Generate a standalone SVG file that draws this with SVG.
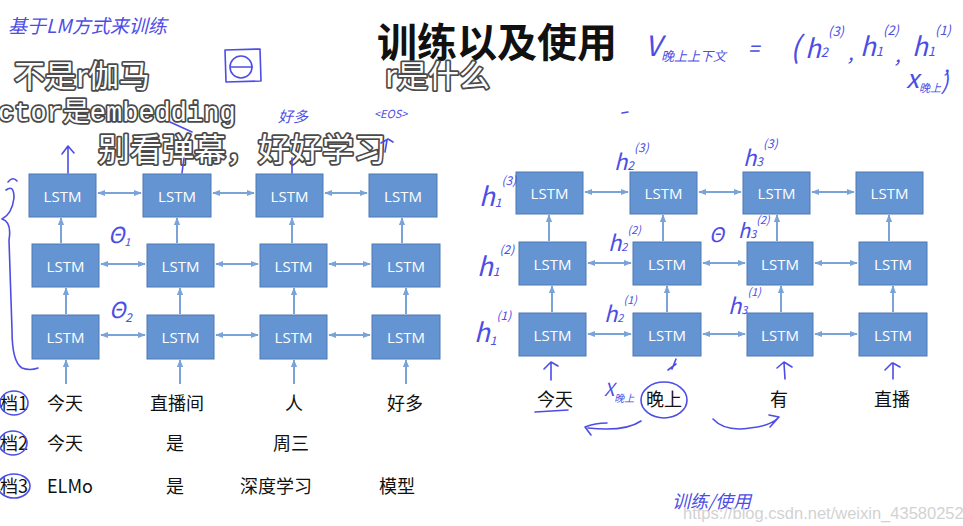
<svg xmlns="http://www.w3.org/2000/svg" width="963" height="526" viewBox="0 0 963 526">
<style>
.box{fill:#6495d2;stroke:#4d79b3;stroke-width:1}
.lbl{font-family:"Open Sans","Liberation Sans",sans-serif;font-size:15px;fill:#fff;text-anchor:middle;dominant-baseline:central}
.conn line{stroke:#7aa3d8;stroke-width:2}
.hw{fill:none;stroke:#4d4de6;stroke-width:1.6;stroke-linecap:round;stroke-linejoin:round}
.hwt{font-family:"Noto Sans CJK SC","DejaVu Sans",sans-serif;fill:#4d4de6;font-style:italic}
.word{font-family:"Noto Sans CJK SC","Liberation Sans",sans-serif;font-size:18px;fill:#111}
.dm{font-family:"Noto Sans CJK SC",sans-serif;fill:#fff;stroke:#4a4a4a;stroke-width:3.5;paint-order:stroke;stroke-linejoin:round}
.dmm{font-family:"Liberation Mono","Noto Sans CJK SC",monospace;fill:#fff;stroke:#4a4a4a;stroke-width:3.5;paint-order:stroke;stroke-linejoin:round}
</style>
<defs>
<marker id="ah" viewBox="0 0 10 10" refX="9" refY="5" markerWidth="8" markerHeight="8" markerUnits="userSpaceOnUse" orient="auto-start-reverse"><path d="M0,1 L10,5 L0,9 z" fill="#7aa3d8"/></marker>
</defs>
<rect width="963" height="526" fill="#fff"/>

<text x="497" y="57" text-anchor="middle" font-family="Noto Sans CJK SC,sans-serif" font-size="40" font-weight="bold" fill="#111">训练以及使用</text>

<!-- connectors -->
<g id="connectors" class="conn">
<g marker-start="url(#ah)" marker-end="url(#ah)">
<line x1="98" y1="193" x2="141" y2="193"/><line x1="213" y1="193" x2="254" y2="193"/><line x1="325" y1="193" x2="367" y2="193"/>
<line x1="101" y1="264" x2="145" y2="264"/><line x1="216" y1="264" x2="258" y2="264"/><line x1="329" y1="264" x2="370" y2="264"/>
<line x1="101" y1="335" x2="145" y2="335"/><line x1="216" y1="335" x2="258" y2="335"/><line x1="329" y1="335" x2="370" y2="335"/>
<line x1="585" y1="192" x2="628" y2="192"/><line x1="699" y1="192" x2="741" y2="192"/><line x1="812" y1="192" x2="854" y2="192"/>
<line x1="588" y1="263" x2="631" y2="263"/><line x1="703" y1="263" x2="745" y2="263"/><line x1="815" y1="263" x2="857" y2="263"/>
<line x1="588" y1="334" x2="631" y2="334"/><line x1="703" y1="334" x2="745" y2="334"/><line x1="815" y1="334" x2="857" y2="334"/>
</g>
<g marker-end="url(#ah)">
<line x1="66" y1="314" x2="66" y2="288"/><line x1="180" y1="314" x2="180" y2="288"/><line x1="294" y1="314" x2="294" y2="288"/><line x1="406" y1="314" x2="406" y2="288"/>
<line x1="61" y1="243" x2="61" y2="218"/><line x1="177" y1="243" x2="177" y2="218"/><line x1="292" y1="243" x2="292" y2="218"/><line x1="402" y1="243" x2="402" y2="218"/>
<line x1="66" y1="384" x2="66" y2="360"/><line x1="180" y1="384" x2="180" y2="360"/><line x1="294" y1="384" x2="294" y2="360"/><line x1="406" y1="384" x2="406" y2="360"/>
<line x1="552" y1="312" x2="552" y2="286"/><line x1="667" y1="312" x2="667" y2="286"/><line x1="781" y1="312" x2="781" y2="286"/><line x1="893" y1="312" x2="893" y2="286"/>
<line x1="549" y1="241" x2="549" y2="215"/><line x1="663" y1="241" x2="663" y2="215"/><line x1="777" y1="241" x2="777" y2="215"/><line x1="889" y1="241" x2="889" y2="215"/>
</g>
</g>

<!-- left grid -->
<g id="L11"><rect class="box" x="29" y="174" width="67" height="43"/><text class="lbl" x="62.5" y="196">LSTM</text></g>
<g id="L12"><rect class="box" x="143" y="174" width="68" height="43"/><text class="lbl" x="177" y="196">LSTM</text></g>
<g id="L13"><rect class="box" x="256" y="174" width="67" height="43"/><text class="lbl" x="289.5" y="196">LSTM</text></g>
<g id="L14"><rect class="box" x="369" y="174" width="68" height="43"/><text class="lbl" x="403" y="196">LSTM</text></g>
<g id="L21"><rect class="box" x="32" y="244" width="67" height="43"/><text class="lbl" x="65.5" y="266">LSTM</text></g>
<g id="L22"><rect class="box" x="147" y="244" width="67" height="43"/><text class="lbl" x="180.5" y="266">LSTM</text></g>
<g id="L23"><rect class="box" x="260" y="244" width="67" height="43"/><text class="lbl" x="293.5" y="266">LSTM</text></g>
<g id="L24"><rect class="box" x="372" y="244" width="68" height="43"/><text class="lbl" x="406" y="266">LSTM</text></g>
<g id="L31"><rect class="box" x="32" y="315" width="67" height="44"/><text class="lbl" x="65.5" y="337">LSTM</text></g>
<g id="L32"><rect class="box" x="147" y="315" width="67" height="44"/><text class="lbl" x="180.5" y="337">LSTM</text></g>
<g id="L33"><rect class="box" x="260" y="315" width="67" height="44"/><text class="lbl" x="293.5" y="337">LSTM</text></g>
<g id="L34"><rect class="box" x="372" y="315" width="68" height="44"/><text class="lbl" x="406" y="337">LSTM</text></g>

<!-- right grid -->
<g id="R11"><rect class="box" x="516" y="172" width="67" height="42"/><text class="lbl" x="549.5" y="193">LSTM</text></g>
<g id="R12"><rect class="box" x="630" y="172" width="67" height="42"/><text class="lbl" x="663.5" y="193">LSTM</text></g>
<g id="R13"><rect class="box" x="743" y="172" width="67" height="42"/><text class="lbl" x="776.5" y="193">LSTM</text></g>
<g id="R14"><rect class="box" x="856" y="172" width="67" height="42"/><text class="lbl" x="889.5" y="193">LSTM</text></g>
<g id="R21"><rect class="box" x="519" y="242" width="67" height="43"/><text class="lbl" x="552.5" y="264">LSTM</text></g>
<g id="R22"><rect class="box" x="633" y="242" width="68" height="43"/><text class="lbl" x="667" y="264">LSTM</text></g>
<g id="R23"><rect class="box" x="747" y="242" width="66" height="43"/><text class="lbl" x="780" y="264">LSTM</text></g>
<g id="R24"><rect class="box" x="859" y="242" width="68" height="43"/><text class="lbl" x="893" y="264">LSTM</text></g>
<g id="R31"><rect class="box" x="519" y="313" width="67" height="43"/><text class="lbl" x="552.5" y="335">LSTM</text></g>
<g id="R32"><rect class="box" x="633" y="313" width="68" height="43"/><text class="lbl" x="667" y="335">LSTM</text></g>
<g id="R33"><rect class="box" x="747" y="313" width="66" height="43"/><text class="lbl" x="780" y="335">LSTM</text></g>
<g id="R34"><rect class="box" x="859" y="313" width="68" height="43"/><text class="lbl" x="893" y="335">LSTM</text></g>

<!-- words -->
<g id="words">
<text class="word" x="0" y="410">档1</text><text class="word" x="47" y="410">今天</text><text class="word" x="150" y="410">直播间</text><text class="word" x="285" y="410">人</text><text class="word" x="387" y="410">好多</text>
<text class="word" x="0" y="450">档2</text><text class="word" x="47" y="450">今天</text><text class="word" x="166" y="450">是</text><text class="word" x="273" y="450">周三</text>
<text class="word" x="0" y="493">档3</text><text class="word" x="47" y="493">ELMo</text><text class="word" x="166" y="493">是</text><text class="word" x="240" y="493">深度学习</text><text class="word" x="379" y="493">模型</text>
<text class="word" x="537" y="406">今天</text><text class="word" x="646" y="406">晚上</text><text class="word" x="770" y="406">有</text><text class="word" x="874" y="406">直播</text>
</g>

<!-- danmaku overlay -->
<g id="overlay">
<text class="dm" x="14" y="87" font-size="31">不是r伽马</text>
<text class="dm" x="385" y="87" font-size="31">r是什么</text>
<text class="dmm" x="-2" y="121" font-size="27">ctor是embedding</text>
<text class="dm" x="98" y="161" font-size="32">别看弹幕，好好学习</text>
</g>

<!-- handwritten annotations -->
<g id="notes">
<text class="hwt" x="8" y="33" font-size="19">基于LM方式来训练</text>
<path class="hw" d="M225 50 L260 49 L261 81 L226 82 Z"/>
<circle class="hw" cx="241" cy="67" r="11"/><path class="hw" d="M231 67 L252 67"/>
<text class="hwt" x="278" y="122" font-size="15">好多</text>
<text class="hwt" x="374" y="118" font-size="11">&lt;EOS&gt;</text>
<path class="hw" d="M68 173 L68 147 M62 154 L68 146 L74 153"/>
<path class="hw" d="M182 173 L184 158 M170 122 L192 132"/>
<path class="hw" d="M292 173 L292 158"/>
<path class="hw" d="M385 152 L387 140 M381 143 L388 139 L393 142"/>
<path class="hw" d="M6 190 Q14 184 14 198 Q12 214 2 219 Q12 222 9 240 L12 330 Q12 362 22 368 Q30 371 38 368 M8 182 Q13 176 17 181"/>
<text class="hwt" x="108" y="243" font-size="22">Θ<tspan font-size="11" dy="3">1</tspan></text>
<text class="hwt" x="109" y="318" font-size="22">Θ<tspan font-size="12" dy="4">2</tspan></text>
<ellipse class="hw" cx="14" cy="403" rx="14" ry="12"/>
<ellipse class="hw" cx="13" cy="443" rx="14" ry="12"/>
<ellipse class="hw" cx="14" cy="486" rx="16" ry="12"/>

<text class="hwt" x="645" y="56" font-size="28">V<tspan font-size="13" dy="5">晚上上下文</tspan></text>
<text class="hwt" x="748" y="56" font-size="20">=</text>
<text class="hwt" x="790" y="58" font-size="30">(</text>
<text class="hwt" x="805" y="58" font-size="26">h<tspan font-size="13" dy="-1">2</tspan><tspan font-size="13" dy="-21">(3)</tspan></text>
<text class="hwt" x="848" y="60" font-size="20">,</text>
<text class="hwt" x="860" y="56" font-size="26">h<tspan font-size="13" dy="0">1</tspan><tspan font-size="13" dy="-21">(2)</tspan></text>
<text class="hwt" x="895" y="62" font-size="20">,</text>
<text class="hwt" x="912" y="56" font-size="26">h<tspan font-size="13" dy="0">1</tspan><tspan font-size="13" dy="-21">(1)</tspan></text>
<text class="hwt" x="944" y="72" font-size="20">,</text>
<text class="hwt" x="906" y="88" font-size="26">x<tspan font-size="11" dy="4">晚上</tspan><tspan font-size="22" dy="-2">)</tspan></text>
<path class="hw" d="M622 113 L628 112"/>

<text class="hwt" x="479" y="206" font-size="26">h<tspan font-size="12" dy="1">1</tspan><tspan font-size="12" dy="-22">(3)</tspan></text>
<text class="hwt" x="614" y="170" font-size="22">h<tspan font-size="12" dy="0">2</tspan><tspan font-size="12" dy="-18">(3)</tspan></text>
<text class="hwt" x="743" y="166" font-size="22">h<tspan font-size="12" dy="0">3</tspan><tspan font-size="12" dy="-18">(3)</tspan></text>
<text class="hwt" x="477" y="276" font-size="26">h<tspan font-size="12" dy="0">1</tspan><tspan font-size="12" dy="-22">(2)</tspan></text>
<text class="hwt" x="608" y="251" font-size="22">h<tspan font-size="11" dy="0">2</tspan><tspan font-size="11" dy="-17">(2)</tspan></text>
<text class="hwt" x="709" y="242" font-size="20">Θ</text>
<text class="hwt" x="738" y="238" font-size="20">h<tspan font-size="11" dy="0">3</tspan><tspan font-size="11" dy="-14">(2)</tspan></text>
<text class="hwt" x="474" y="342" font-size="26">h<tspan font-size="12" dy="3">1</tspan><tspan font-size="12" dy="-25">(1)</tspan></text>
<text class="hwt" x="604" y="322" font-size="22">h<tspan font-size="11" dy="0">2</tspan><tspan font-size="11" dy="-18">(1)</tspan></text>
<text class="hwt" x="728" y="314" font-size="22">h<tspan font-size="11" dy="0">3</tspan><tspan font-size="11" dy="-18">(1)</tspan></text>

<path class="hw" d="M551 380 L551 363 M544 369 L551 362 L558 366"/>
<path class="hw" d="M672 369 L676 359 M668 370 L676 364"/>
<path class="hw" d="M785 379 L784 363 M777 368 L784 362 L792 367"/>
<path class="hw" d="M893 379 L893 363 M885 370 L892 363 M893 363 L900 367"/>
<text class="hwt" x="604" y="396" font-size="18">X<tspan font-size="10" dy="6">晚上</tspan></text>
<ellipse class="hw" cx="664" cy="400" rx="23" ry="18"/>
<path class="hw" d="M535 412 L568 410"/>
<path class="hw" d="M641 421 Q625 432 588 428 M607 423 Q595 423 585 427 L591 435"/>
<path class="hw" d="M713 419 Q725 432 750 428 Q770 426 778 418 M769 415 L779 417 L770 427"/>
<text class="hwt" x="672" y="508" font-size="18">训练/使用</text>
</g>

<text x="683" y="519" font-family="Liberation Sans,sans-serif" font-size="16.5" fill="#d2d2d2">https://blog.csdn.net/weixin_43580252</text>
</svg>
